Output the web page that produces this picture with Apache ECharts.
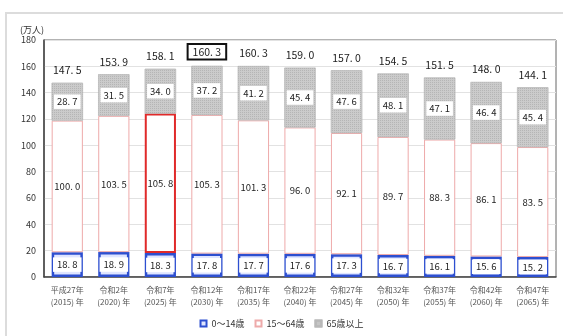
<!DOCTYPE html>
<html><head><meta charset="utf-8">
<script src="https://cdn.jsdelivr.net/npm/echarts@6/dist/echarts.min.js"></script>
<style>html,body{margin:0;padding:0;background:#fff}#c{width:563px;height:336px}</style>
</head><body><div id="c"></div>
<script>
const categories = ['平成27年\n(2015) 年','令和2年\n(2020) 年','令和7年\n(2025) 年','令和12年\n(2030) 年','令和17年\n(2035) 年','令和22年\n(2040) 年','令和27年\n(2045) 年','令和32年\n(2050) 年','令和37年\n(2055) 年','令和42年\n(2060) 年','令和47年\n(2065) 年'];
const age0_14 = [18.8, 18.9, 18.3, 17.8, 17.7, 17.6, 17.3, 16.7, 16.1, 15.6, 15.2];
const age15_64 = [100.0, 103.5, 105.8, 105.3, 101.3, 96.0, 92.1, 89.7, 88.3, 86.1, 83.5];
const age65 = [28.7, 31.5, 34.0, 37.2, 41.2, 45.4, 47.6, 48.1, 47.1, 46.4, 45.4];
const totals = [147.5, 153.9, 158.1, 160.3, 160.3, 159.0, 157.0, 154.5, 151.5, 148.0, 144.1];
const yTicks = [0, 20, 40, 60, 80, 100, 120, 140, 160, 180];
const seriesNames = ['0～14歳', '15～64歳', '65歳以上'];
const highlightBar = 2;   // 2025
const highlightTotal = 3; // 2030

const FONT = '"Noto Sans CJK JP", sans-serif';
const fmt = v => v.toFixed(1).replace('.', '. ');
const chart = echarts.init(document.getElementById('c'));
chart.setOption({
  animation: false,
  title: { text: '(万人)', left: 15, top: 20, textStyle: { fontSize: 9, fontWeight: 'normal', color: '#333', fontFamily: FONT } },
  graphic: [{ type: 'rect', shape: { x: 6, y: 13, width: 560, height: 330 }, style: { fill: 'none', stroke: '#dcdcdc', lineWidth: 2 }, silent: true }],
  legend: {
    data: seriesNames.map(n => ({ name: n, icon: 'rect' })), bottom: 3, left: 'center', itemWidth: 6, itemHeight: 6, itemGap: 10,
    textStyle: { fontSize: 9, color: '#333', fontFamily: FONT }
  },
  grid: { left: 44, right: 7, top: 40, bottom: 59, show: true, borderColor: '#666', borderWidth: 1 },
  xAxis: {
    type: 'category', data: categories,
    axisLine: { lineStyle: { color: '#444', width: 1.5 } }, axisTick: { show: false },
    axisLabel: { fontSize: 8, color: '#555', lineHeight: 12, margin: 7, interval: 0, fontFamily: FONT }
  },
  yAxis: {
    type: 'value', min: yTicks[0], max: yTicks[yTicks.length - 1], interval: 20,
    axisLine: { show: true, lineStyle: { color: '#444', width: 1.5 } }, axisTick: { show: false },
    axisLabel: { fontSize: 9, color: '#333', margin: 8, fontFamily: FONT },
    splitLine: { lineStyle: { color: '#e2e2e2' } }
  },
  series: [
    {
      name: seriesNames[0], type: 'bar', stack: 'a', barCategoryGap: '33%',
      data: age0_14,
      itemStyle: { color: '#dfe5ff', borderColor: '#2d4fd0', borderWidth: 2.5 },
      label: { show: true, position: 'inside', formatter: p => fmt(p.value), fontSize: 9.5, color: '#222',
        backgroundColor: '#fff', padding: [3, 4, 2, 4], fontFamily: FONT }
    },
    {
      name: seriesNames[1], type: 'bar', stack: 'a',
      data: age15_64.map((v, i) => i === highlightBar ? { value: v, itemStyle: { borderColor: '#e02a2a', borderWidth: 2 } } : v),
      itemStyle: { color: '#fff', borderColor: '#eeaaaa', borderWidth: 1 },
      label: { show: true, position: 'inside', formatter: p => fmt(p.value), fontSize: 9.5, color: '#222', fontFamily: FONT }
    },
    {
      name: seriesNames[2], type: 'bar', stack: 'a',
      data: age65,
      itemStyle: { color: '#cbcbcb', borderColor: '#b8b8b8', borderWidth: 0.5,
        decal: { symbol: 'rect', symbolSize: 1, dashArrayX: [1, 1], dashArrayY: [1, 1], color: 'rgba(140,140,140,0.35)' } },
      label: { show: true, position: 'inside', formatter: p => fmt(p.value), fontSize: 9.5, color: '#222',
        backgroundColor: '#fff', padding: [3, 3, 2, 3], fontFamily: FONT }
    },
    {
      name: 'total', type: 'line', data: totals.map((v, i) => i === highlightTotal ?
        { value: v, label: { borderColor: '#111', borderWidth: 2, padding: [3, 5, 2, 5], distance: 6 } } : v),
      symbol: 'circle', symbolSize: 1, showSymbol: true, itemStyle: { color: 'rgba(0,0,0,0)' }, lineStyle: { width: 0, color: 'rgba(0,0,0,0)' }, silent: true,
      label: { show: true, position: 'top', distance: 7, formatter: p => fmt(p.value), fontSize: 10.5, color: '#222', fontFamily: FONT }
    }
  ]
});
</script></body></html>
